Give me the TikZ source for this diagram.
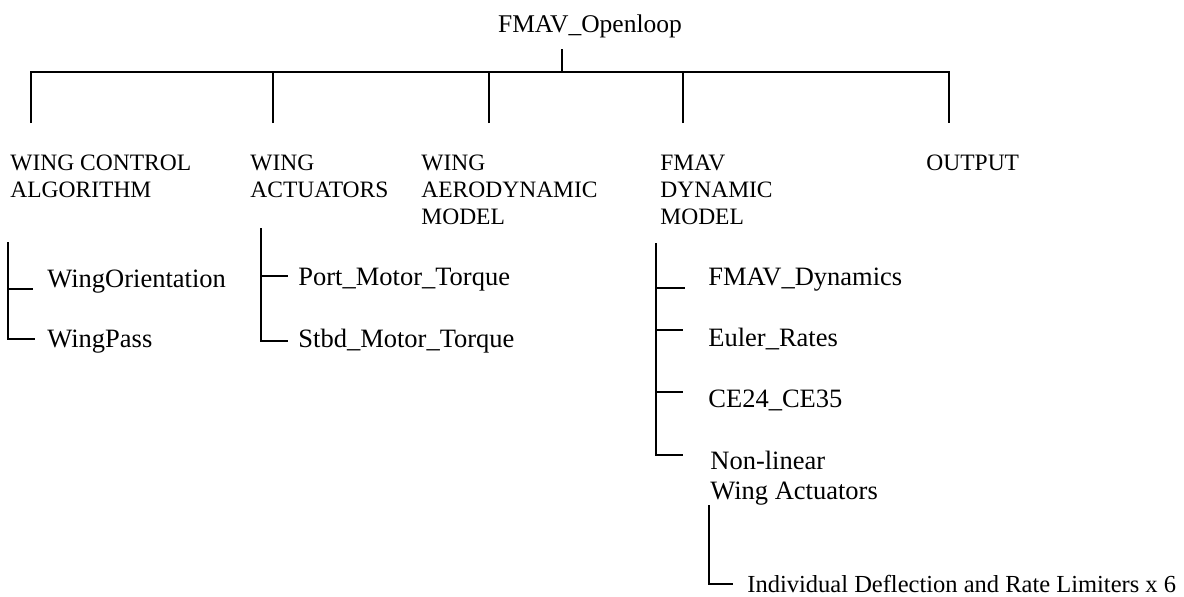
\documentclass[tikz,border=0pt]{standalone}
\usepackage{fontspec}
\setmainfont{Liberation Serif}
\usepackage{tikz}

\begin{document}
\begin{tikzpicture}[
  x=0.5pt, y=-0.5pt,
  head/.style={font=\fontsize{12.75}{15}\selectfont, inner sep=0pt, anchor=base},
  group/.style={font=\fontsize{11.75}{13.5}\selectfont, align=left, inner sep=0pt, anchor=base west},
  item/.style={font=\fontsize{13.25}{15}\selectfont, align=left, inner sep=0pt, anchor=base west},
  note/.style={font=\fontsize{12.25}{14}\selectfont, inner sep=0pt, anchor=base west},
  link/.style={line width=1pt, draw=black}
]
\useasboundingbox (0,0) rectangle (1184,596);

% Root
\node[head] (root) at (590,32) {FMAV\_Openloop};

% Top level blocks (base = last line)
\node[group] (wca) at (10,197) {WING CONTROL\\ALGORITHM};
\node[group] (wact) at (250,197) {WING\\ACTUATORS};
\node[group] (waero) at (421,224) {WING\\AERODYNAMIC\\MODEL};
\node[group] (fdm) at (660,224) {FMAV\\DYNAMIC\\MODEL};
\node[group] (outp) at (926,170) {OUTPUT};

% Trunk and drops
\coordinate (stem) at (562,49);
\coordinate (hub) at (562,72);
\coordinate (d1) at (31,123);
\coordinate (d2) at (273,123);
\coordinate (d3) at (489,123);
\coordinate (d4) at (683,123);
\coordinate (d5) at (949,123);
\draw[link] (stem) -- (hub);
\draw[link] (d1) |- (hub) -| (d5);
\foreach \d in {d2,d3,d4}
  \draw[link] (\d) -- (\d |- hub);

% Wing control algorithm
\node[item] (orient) at (47,287) {WingOrientation};
\node[item] (pass) at (47,347) {WingPass};
\coordinate (s1) at (8,242);
\draw[link] (s1) |- ([xshift=-7pt,yshift=-1pt]orient.base west);
\draw[link] (s1) |- ([xshift=-6pt,yshift=4pt]pass.base west);

% Wing actuators
\node[item] (port) at (298,285) {Port\_Motor\_Torque};
\node[item] (stbd) at (298,347) {Stbd\_Motor\_Torque};
\coordinate (s2) at (261,228);
\draw[link] (s2) |- ([xshift=-5pt,yshift=4.5pt]port.base west);
\draw[link] (s2) |- ([xshift=-5pt,yshift=3pt]stbd.base west);

% FMAV dynamic model
\node[item] (dyn) at (708,285) {FMAV\_Dynamics};
\node[item] (euler) at (708,346) {Euler\_Rates};
\node[item] (ce) at (708,407) {CE24\_CE35};
\node[item] (nlin) at (710,499) {Non-linear\\Wing Actuators};
\coordinate (s3) at (656,243);
\draw[link] (s3) |- ([xshift=-11.5pt,yshift=-1.5pt]dyn.base west);
\draw[link] (s3) |- ([xshift=-12.5pt,yshift=8pt]euler.base west);
\draw[link] (s3) |- ([xshift=-12.5pt,yshift=7.5pt]ce.base west);
\draw[link] (s3) |- ([xshift=-13.5pt,yshift=-2.5pt]nlin.north west);

% Limiters
\node[note] (limit) at (747,592) {Individual Deflection and Rate Limiters x 6};
\draw[link] ([xshift=-0.5pt]nlin.south west) |- ([xshift=-7pt,yshift=4pt]limit.base west);

\end{tikzpicture}
\end{document}
